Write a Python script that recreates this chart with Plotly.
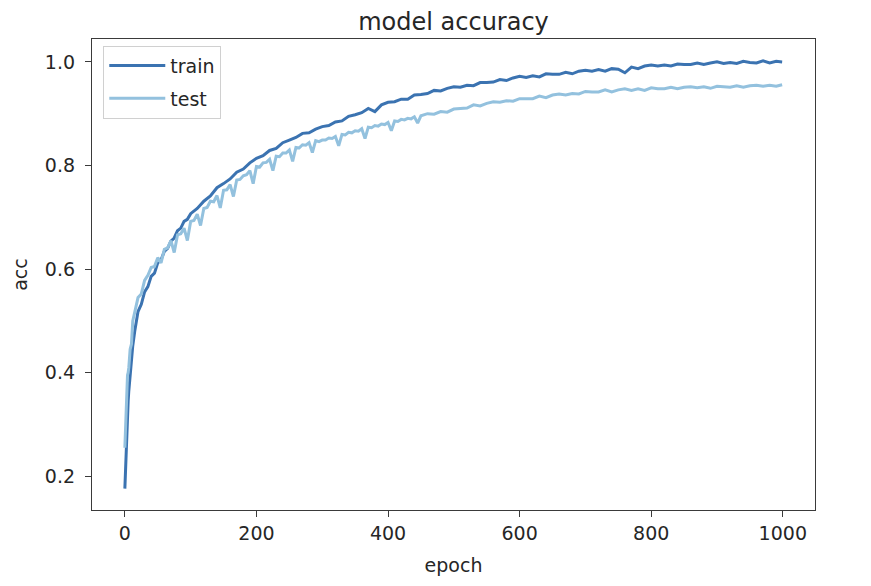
import plotly.graph_objects as go

# ---- data ----
train_epochs = [0, 1, 2, 3, 4, 5, 6, 8, 10, 12, 15, 18, 20, 25, 30, 35, 40, 45, 50, 55,
                60, 65, 70, 75, 80, 85, 90, 95,
                100, 110, 120, 130, 140, 150, 160, 170, 180, 190,
                200, 210, 220, 230, 240, 250, 260, 270, 280, 290,
                300, 310, 320, 330, 340, 350, 360, 370, 380, 390,
                400, 410, 420, 430, 440, 450, 460, 470, 480, 490,
                500, 510, 520, 530, 540, 550, 560, 570, 580, 590,
                600, 610, 620, 630, 640, 650, 660, 670, 680, 690,
                700, 710, 720, 730, 740, 750, 760, 770, 780, 790,
                800, 810, 820, 830, 840, 850, 860, 870, 880, 890,
                900, 910, 920, 930, 940, 950, 960, 970, 980, 990, 999]
train_acc = [0.176, 0.215, 0.26, 0.29, 0.315, 0.345, 0.365, 0.40, 0.43, 0.452, 0.48, 0.50, 0.518, 0.532, 0.556, 0.566, 0.586, 0.592, 0.612, 0.618,
             0.634, 0.640, 0.654, 0.660, 0.674, 0.679, 0.692, 0.696,
             0.707, 0.717, 0.731, 0.741, 0.757, 0.765, 0.774, 0.787, 0.793, 0.805,
             0.814, 0.819, 0.829, 0.833, 0.844, 0.849, 0.854, 0.862, 0.863, 0.870,
             0.875, 0.877, 0.884, 0.886, 0.895, 0.898, 0.902, 0.910, 0.904, 0.917,
             0.922, 0.923, 0.928, 0.928, 0.936, 0.937, 0.939, 0.945, 0.944, 0.949,
             0.952, 0.951, 0.955, 0.954, 0.960, 0.960, 0.961, 0.966, 0.964, 0.969,
             0.972, 0.970, 0.973, 0.971, 0.977, 0.976, 0.976, 0.980, 0.977, 0.982,
             0.984, 0.982, 0.985, 0.982, 0.987, 0.986, 0.979, 0.990, 0.987, 0.992,
             0.994, 0.992, 0.994, 0.992, 0.996, 0.995, 0.995, 0.998, 0.995, 0.998,
             1.000, 0.997, 0.999, 0.997, 1.001, 0.999, 0.998, 1.002, 0.998, 1.001, 1.000]

test_epochs = [0, 1, 2, 3, 4, 5, 6, 8, 10, 12, 15, 18, 20, 25, 30, 35, 40, 45,
               50, 55, 60, 65, 70, 75, 80, 85, 90, 95,
               100, 105, 110, 115, 120, 125, 130, 135, 140, 145,
               150, 155, 160, 165, 170, 175, 180, 185, 190, 195,
               200, 205, 210, 215, 220, 225, 230, 235, 240, 245,
               250, 255, 260, 265, 270, 275, 280, 285, 290, 295,
               300, 305, 310, 315, 320, 325, 330, 335, 340, 345,
               350, 355, 360, 365, 370, 375, 380, 385, 390, 395,
               400, 405, 410, 415, 420, 425, 430, 435, 440, 445, 450,
               460, 470, 480, 490, 500, 510, 520, 530, 540, 550,
               560, 570, 580, 590, 600, 610, 620, 630, 640, 650,
               660, 670, 680, 690, 700, 710, 720, 730, 740, 750,
               760, 770, 780, 790, 800, 810, 820, 830, 840, 850,
               860, 870, 880, 890, 900, 910, 920, 930, 940, 950,
               960, 970, 980, 990, 999]
test_acc = [0.255, 0.30, 0.33, 0.36, 0.395, 0.40, 0.41, 0.445, 0.455, 0.50, 0.515, 0.535, 0.545, 0.552, 0.578, 0.588, 0.603, 0.605,
            0.622, 0.612, 0.638, 0.641, 0.655, 0.632, 0.666, 0.668, 0.679, 0.655,
            0.692, 0.694, 0.706, 0.684, 0.717, 0.719, 0.731, 0.730, 0.742, 0.718,
            0.752, 0.753, 0.763, 0.740, 0.772, 0.773, 0.780, 0.782, 0.790, 0.765,
            0.798, 0.797, 0.805, 0.806, 0.812, 0.790, 0.818, 0.817, 0.824, 0.824,
            0.830, 0.808, 0.835, 0.834, 0.840, 0.839, 0.844, 0.825, 0.848, 0.846,
            0.849, 0.849, 0.853, 0.852, 0.856, 0.838, 0.860, 0.859, 0.864, 0.863,
            0.867, 0.866, 0.871, 0.852, 0.874, 0.873, 0.877, 0.876, 0.880, 0.879,
            0.883, 0.867, 0.886, 0.885, 0.889, 0.888, 0.891, 0.890, 0.894, 0.882, 0.896,
            0.900, 0.899, 0.904, 0.903, 0.909, 0.910, 0.911, 0.917, 0.915, 0.920,
            0.923, 0.922, 0.925, 0.924, 0.929, 0.929, 0.929, 0.934, 0.931, 0.936,
            0.938, 0.936, 0.939, 0.938, 0.943, 0.942, 0.942, 0.946, 0.942, 0.946,
            0.948, 0.945, 0.948, 0.945, 0.950, 0.948, 0.948, 0.951, 0.948, 0.951,
            0.952, 0.950, 0.952, 0.949, 0.953, 0.952, 0.951, 0.954, 0.951, 0.954,
            0.955, 0.953, 0.955, 0.953, 0.956]

x_ticks = [0, 200, 400, 600, 800, 1000]
y_ticks = [0.2, 0.4, 0.6, 0.8, 1.0]
y_tick_text = ["0.2", "0.4", "0.6", "0.8", "1.0"]

TRAIN_COLOR = "#3b73b1"
TEST_COLOR = "#93c1de"
FONT = "DejaVu Sans"
TXT = "#262626"
AX = "#3a3a3a"
FS = 19

fig = go.Figure()
fig.add_trace(go.Scatter(x=train_epochs, y=train_acc, mode="lines", name="train",
                         legendgroup="a",
                         line=dict(color=TRAIN_COLOR, width=3)))
fig.add_trace(go.Scatter(x=test_epochs, y=test_acc, mode="lines", name="test",
                         legendgroup="b",
                         line=dict(color=TEST_COLOR, width=3)))

fig.update_layout(
    width=871, height=586,
    margin=dict(l=84, r=64, t=31, b=84),
    paper_bgcolor="white", plot_bgcolor="white",
    font=dict(family=FONT, size=FS, color=TXT),
    title=dict(text="model accuracy", x=0.5, xref="paper", xanchor="center",
               y=0.977, yref="container", yanchor="middle",
               font=dict(family=FONT, size=24, color=TXT)),
    showlegend=True,
    legend=dict(x=0.0156, y=0.9858, xanchor="left", yanchor="top",
                bgcolor="white", bordercolor="#d0d0d0", borderwidth=1,
                font=dict(family=FONT, size=FS, color=TXT),
                itemwidth=56, tracegroupgap=5),
    hovermode=False,
)
fig.update_xaxes(range=[-49.95, 1048.95], tickvals=x_ticks,
                 ticktext=[str(t) for t in x_ticks],
                 showgrid=False, zeroline=False,
                 showline=True, mirror=True, linecolor=AX, linewidth=1.3,
                 ticks="outside", ticklen=6, tickwidth=1.3, tickcolor=AX,
                 tickfont=dict(family=FONT, size=FS, color=TXT),
                 title=dict(text="epoch", font=dict(family=FONT, size=FS, color=TXT), standoff=15))
fig.update_yaxes(range=[0.1348, 1.0442], tickvals=y_ticks, ticktext=y_tick_text,
                 showgrid=False, zeroline=False,
                 showline=True, mirror=True, linecolor=AX, linewidth=1.3,
                 ticks="outside", ticklen=6, tickwidth=1.3, tickcolor=AX,
                 ticklabelstandoff=6,
                 tickfont=dict(family=FONT, size=FS, color=TXT),
                 title=dict(text="acc", font=dict(family=FONT, size=FS, color=TXT), standoff=12))

fig.write_html("out.html")
